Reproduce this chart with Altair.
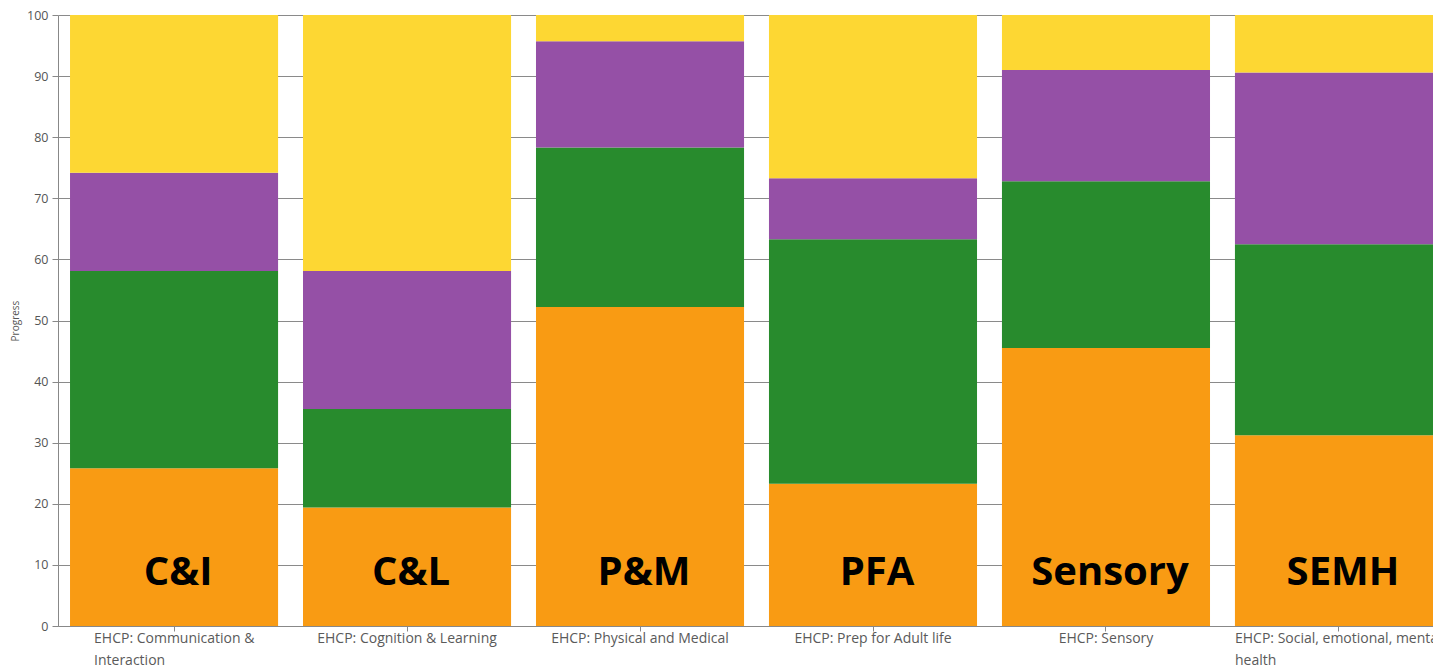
import altair as alt
import pandas as pd

categories = [
    "EHCP: Communication & Interaction",
    "EHCP: Cognition & Learning",
    "EHCP: Physical and Medical",
    "EHCP: Prep for Adult life",
    "EHCP: Sensory",
    "EHCP: Social, emotional, mental health",
]
short_labels = ["C&I", "C&L", "P&M", "PFA", "Sensory", "SEMH"]
series = ["Level 1", "Level 2", "Level 3", "Level 4"]
level1 = [25.8, 19.4, 52.2, 23.3, 45.5, 31.2]
level2 = [32.3, 16.1, 26.1, 40.0, 27.3, 31.3]
level3 = [16.1, 22.6, 17.4, 10.0, 18.2, 28.1]
level4 = [25.8, 41.9, 4.3, 26.7, 9.0, 9.4]
colors = ["#F99B13", "#288B2D", "#9550A6", "#FDD733"]

rows = []
for i, s in enumerate(series):
    vals = [level1, level2, level3, level4][i]
    for c, v in zip(categories, vals):
        rows.append({"category": c, "series": s, "idx": i, "value": v})
df = pd.DataFrame(rows)
lab = pd.DataFrame({"category": categories, "short": short_labels})

label_expr = (
    "split(replace(replace(datum.label, '& Interaction', '&|Interaction'), "
    "'mental health', 'mental|health'), '|')"
)
two_line = "indexof(datum.value, 'Interaction') >= 0 || indexof(datum.value, 'mental health') >= 0"

xscale = alt.Scale(domain=categories, paddingInner=0.107, paddingOuter=0.0258, align=1, range=[0, 1385])
xenc = alt.X(
    "category:N",
    scale=xscale,
    sort=categories,
    axis=alt.Axis(
        title=None,
        labelAngle=0,
        labelFont="Open Sans",
        labelFontSize=14,
        labelColor="#5a5a5a",
        labelPadding=0,
        labelLineHeight=22,
        labelBaseline="top",
        labelLimit=400,
        labelAlign={"condition": {"test": two_line, "value": "left"}, "value": "center"},
        labelOffset={
            "condition": [
                {"test": "indexof(datum.value, 'Interaction') >= 0", "value": -80},
                {"test": "indexof(datum.value, 'mental health') >= 0", "value": -104},
            ],
            "value": 0,
        },
        domainColor="#888888",
        tickColor="#888888",
        tickSize=5,
        labelExpr=label_expr,
    ),
)

bars = alt.Chart(df).mark_bar(clip=True).encode(
    x=xenc,
    y=alt.Y(
        "value:Q",
        stack="zero",
        scale=alt.Scale(domain=[0, 100], nice=False),
        axis=alt.Axis(
            title="Progress",
            titleFont="Open Sans",
            titleFontSize=10,
            titleFontWeight="normal",
            titleColor="#555555",
            titlePadding=6,
            values=[0, 10, 20, 30, 40, 50, 60, 70, 80, 90, 100],
            labelFont="Open Sans",
            labelFontSize=12.5,
            labelColor="#555555",
            labelPadding=4,
            tickSize=6,
            tickColor="#888888",
            domainColor="#888888",
            gridColor="#8a8a8a",
            gridWidth=1,
        ),
    ),
    color=alt.Color("series:N", scale=alt.Scale(domain=series, range=colors), legend=None),
    order=alt.Order("idx:Q", sort="ascending"),
)

text = alt.Chart(lab).mark_text(
    font="Open Sans", fontWeight="bold", fontSize=40, color="#000000",
    baseline="alphabetic", dx=4
).encode(
    x=alt.X("category:N", scale=xscale, sort=categories),
    y=alt.datum(6.7),
    text="short:N",
)

chart = (
    alt.layer(bars, text)
    .properties(
        width=1375,
        height=611,
        autosize=alt.AutoSizeParams(type="none"),
        padding={"left": 50, "top": 7, "right": 0, "bottom": 41},
    )
    .configure_view(stroke=None)
)

chart.save("out.html", embed_options={"renderer": "svg", "actions": False})
